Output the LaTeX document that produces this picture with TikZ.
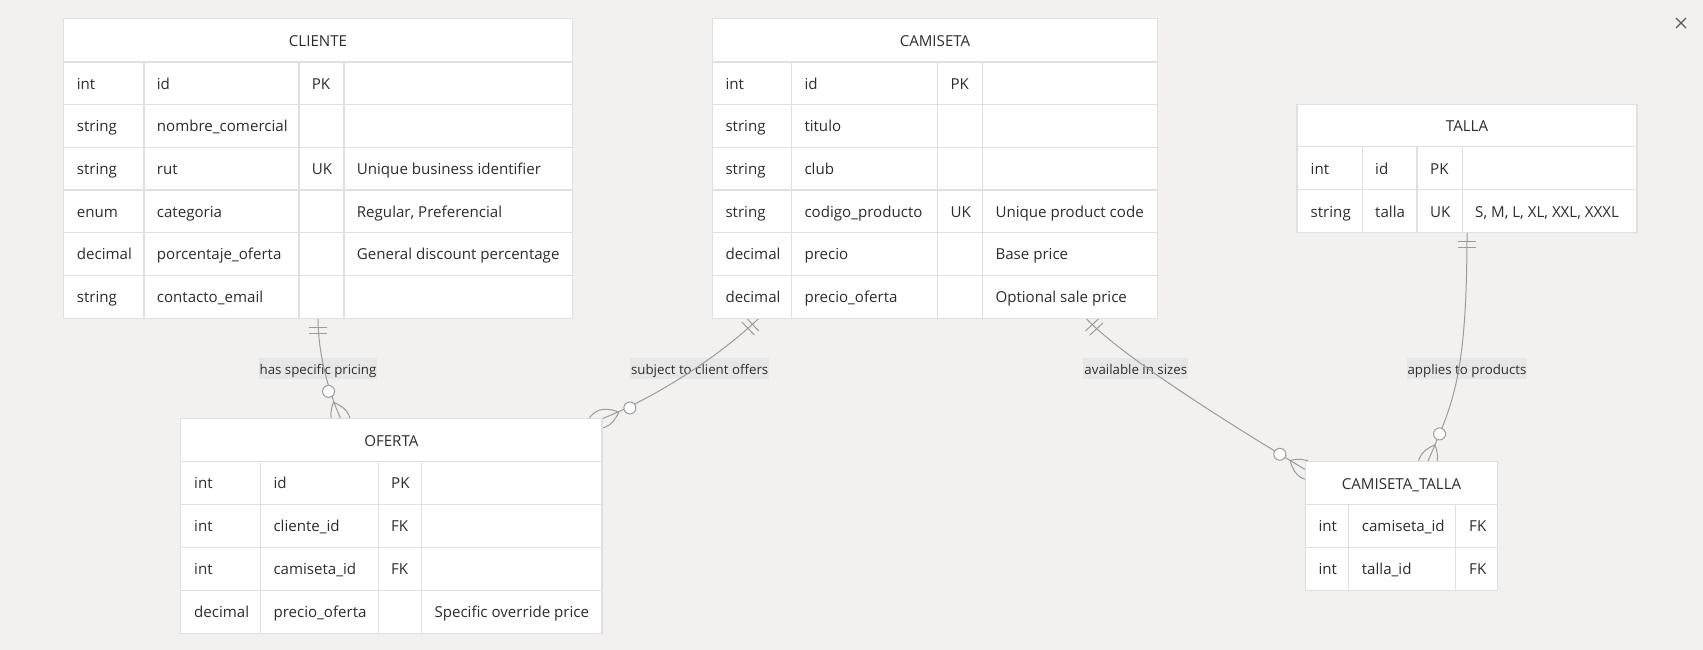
\documentclass[tikz,border=0pt]{standalone}
\usepackage{fontspec}
\setmainfont{Open Sans}
\usetikzlibrary{fit}
\definecolor{bgc}{RGB}{242,241,240}
\definecolor{gridc}{RGB}{224,224,224}
\definecolor{textc}{RGB}{45,45,45}
\definecolor{linec}{RGB}{155,155,155}
\definecolor{lblbg}{RGB}{231,231,231}
\definecolor{xc}{RGB}{90,90,90}
\newcommand\tabfont{\fontsize{15.1}{17}\selectfont}
\newcommand\lblfont{\fontsize{13.3}{15}\selectfont}
\tikzset{
  cell/.style={anchor=base west, inner sep=0pt, font=\tabfont, text=textc},
  ttl/.style={anchor=base, inner sep=0pt, font=\tabfont, text=textc},
  gridl/.style={draw=gridc, line width=1.3pt},
  tblnode/.style={inner sep=0pt},
  conn/.style={draw=linec, line width=1pt},
  lbl/.style={fill=lblbg, inner xsep=1pt, inner ysep=3.65pt, text height=12pt, text depth=1.4pt, font=\lblfont, text=textc},
  zeromany/.pic={
    \draw[conn] (-18,0) .. controls (-6,12) and (6,12) .. (18,0) .. controls (6,-12) and (-6,-12) .. (-18,0);
    \draw[conn, fill=white] (-30,0) circle[radius=6pt];
  },
  onlyone/.pic={
    \draw[conn] (9,-9) -- (9,9) (15,-9) -- (15,9);
  }
}
\begin{document}
\begin{tikzpicture}[x=1pt, y=-1pt]
\useasboundingbox (0,0) rectangle (1703,650);
\fill[bgc] (0,0) rectangle (1703,650);

% table frames (named nodes)
\node[tblnode, fit={(64,19) (572,318)}] (cliente) {};
\node[tblnode, fit={(712.7,19) (1157.3,318)}] (camiseta) {};
\node[tblnode, fit={(1297.3,104.7) (1636.7,232.3)}] (talla) {};
\node[tblnode, fit={(181,419) (601.7,633.3)}] (oferta) {};
\node[tblnode, fit={(1305.7,461.7) (1497.3,590)}] (camtalla) {};

% relationship labels
\node[lbl] (l1) at (318,368.7) {has specific pricing};
\node[lbl] (l2) at (699.7,368.7) {subject to client offers};
\node[lbl] (l3) at (1135.8,368.7) {available in sizes};
\node[lbl] (l4) at (1467,368.7) {applies to products};

% connectors
\draw[conn] (cliente.south) .. controls +(0,32) and +(-14.2,-32) .. ([xshift=-50.65pt]oferta.north);
\pic[rotate=-90] at (cliente.south) {onlyone};
\pic[rotate=-66.1] at ([xshift=-50.65pt]oferta.north) {zeromany};

\draw[conn] ([xshift=-176pt]camiseta.south) .. controls +(-44,42) and +(48.3,-19) .. (oferta.north east);
\pic[rotate=-136.3] at ([xshift=-176pt]camiseta.south) {onlyone};
\pic[rotate=-158.8] at (oferta.north east) {zeromany};

\draw[conn] ([xshift=151pt]camiseta.south) .. controls +(39,42) and +(-51.3,-31.1) .. ([yshift=-8.3pt]camtalla.north west);
\pic[rotate=-47.1] at ([xshift=151pt]camiseta.south) {onlyone};
\pic[rotate=-31.2] at ([yshift=-8.3pt]camtalla.north west) {zeromany};

\draw[conn] (talla.south) .. controls +(0,147.7) and +(24.2,-56.7) .. ([xshift=26.3pt]camtalla.north);
\pic[rotate=-90] at (talla.south) {onlyone};
\pic[rotate=-113.1] at ([xshift=26.3pt]camtalla.north) {zeromany};

% ---------- CLIENTE ----------
\fill[white] (cliente.north west) rectangle (cliente.south east);
\foreach \y in {62,104.7,147.3,190,232.7,275.3} \draw[gridl] (64,\y) -- (572,\y);
\foreach \x in {144,299,344} \draw[gridl] (\x,62) -- (\x,318);
\draw[gridl] (cliente.north west) rectangle (cliente.south east);
\node[ttl] at (318,46.5) {CLIENTE};
\foreach \yy/\ta/\tb/\tc/\td in {89.1/int/id/PK/{}, 131.8/string/nombre\_comercial/{}/{}, 174.5/string/rut/UK/{Unique business identifier}, 217.1/enum/categoria/{}/{Regular, Preferencial}, 259.8/decimal/porcentaje\_oferta/{}/{General discount percentage}, 302.5/string/contacto\_email/{}/{}}{
  \node[cell] at (76.7,\yy) {\ta};
  \node[cell] at (156.7,\yy) {\tb};
  \node[cell] at (311.7,\yy) {\tc};
  \node[cell] at (356.7,\yy) {\td};
}

% ---------- CAMISETA ----------
\fill[white] (camiseta.north west) rectangle (camiseta.south east);
\foreach \y in {62,104.7,147.3,190,232.7,275.3} \draw[gridl] (712.7,\y) -- (1157.3,\y);
\foreach \x in {791.7,937.7,982.7} \draw[gridl] (\x,62) -- (\x,318);
\draw[gridl] (camiseta.north west) rectangle (camiseta.south east);
\node[ttl] at (935,46.5) {CAMISETA};
\foreach \yy/\ta/\tb/\tc/\td in {89.1/int/id/PK/{}, 131.8/string/titulo/{}/{}, 174.5/string/club/{}/{}, 217.1/string/codigo\_producto/UK/{Unique product code}, 259.8/decimal/precio/{}/{Base price}, 302.5/decimal/precio\_oferta/{}/{Optional sale price}}{
  \node[cell] at (725.3,\yy) {\ta};
  \node[cell] at (804.3,\yy) {\tb};
  \node[cell] at (950.3,\yy) {\tc};
  \node[cell] at (995.3,\yy) {\td};
}

% ---------- TALLA ----------
\fill[white] (talla.north west) rectangle (talla.south east);
\foreach \y in {146.7,189.7} \draw[gridl] (1297.3,\y) -- (1636.7,\y);
\foreach \x in {1362.3,1417,1462.3} \draw[gridl] (\x,146.7) -- (\x,232.3);
\draw[gridl] (talla.north west) rectangle (talla.south east);
\node[ttl] at (1467,131.9) {TALLA};
\foreach \yy/\ta/\tb/\tc/\td in {174.2/int/id/PK/{}, 217/string/talla/UK/{S, M, L, XL, XXL, XXXL}}{
  \node[cell] at (1310.5,\yy) {\ta};
  \node[cell] at (1375,\yy) {\tb};
  \node[cell] at (1430,\yy) {\tc};
  \node[cell] at (1475,\yy) {\td};
}

% ---------- OFERTA ----------
\fill[white] (oferta.north west) rectangle (oferta.south east);
\foreach \y in {461.7,504.3,547.7,590.3} \draw[gridl] (181,\y) -- (601.7,\y);
\foreach \x in {260.3,378.3,421.3} \draw[gridl] (\x,461.7) -- (\x,633.3);
\draw[gridl] (oferta.north west) rectangle (oferta.south east);
\node[ttl] at (391.35,446.8) {OFERTA};
\foreach \yy/\ta/\tb/\tc/\td in {488.9/int/id/PK/{}, 531.8/int/cliente\_id/FK/{}, 574.8/int/camiseta\_id/FK/{}, 617.6/decimal/precio\_oferta/{}/{Specific override price}}{
  \node[cell] at (194,\yy) {\ta};
  \node[cell] at (273.3,\yy) {\tb};
  \node[cell] at (391,\yy) {\tc};
  \node[cell] at (434.3,\yy) {\td};
}

% ---------- CAMISETA_TALLA ----------
\fill[white] (camtalla.north west) rectangle (camtalla.south east);
\foreach \y in {504.3,547.7} \draw[gridl] (1305.7,\y) -- (1497.3,\y);
\foreach \x in {1348.7,1455.7} \draw[gridl] (\x,504.3) -- (\x,590);
\draw[gridl] (camtalla.north west) rectangle (camtalla.south east);
\node[ttl] at (1401.5,489) {CAMISETA\_TALLA};
\foreach \yy/\ta/\tb/\tc in {531.8/int/camiseta\_id/FK, 574.7/int/talla\_id/FK}{
  \node[cell] at (1318.3,\yy) {\ta};
  \node[cell] at (1361.7,\yy) {\tb};
  \node[cell] at (1469,\yy) {\tc};
}

% close mark
\draw[xc, line width=1.2pt] (1676,18) -- (1686,28) (1676,28) -- (1686,18);
\end{tikzpicture}
\end{document}
